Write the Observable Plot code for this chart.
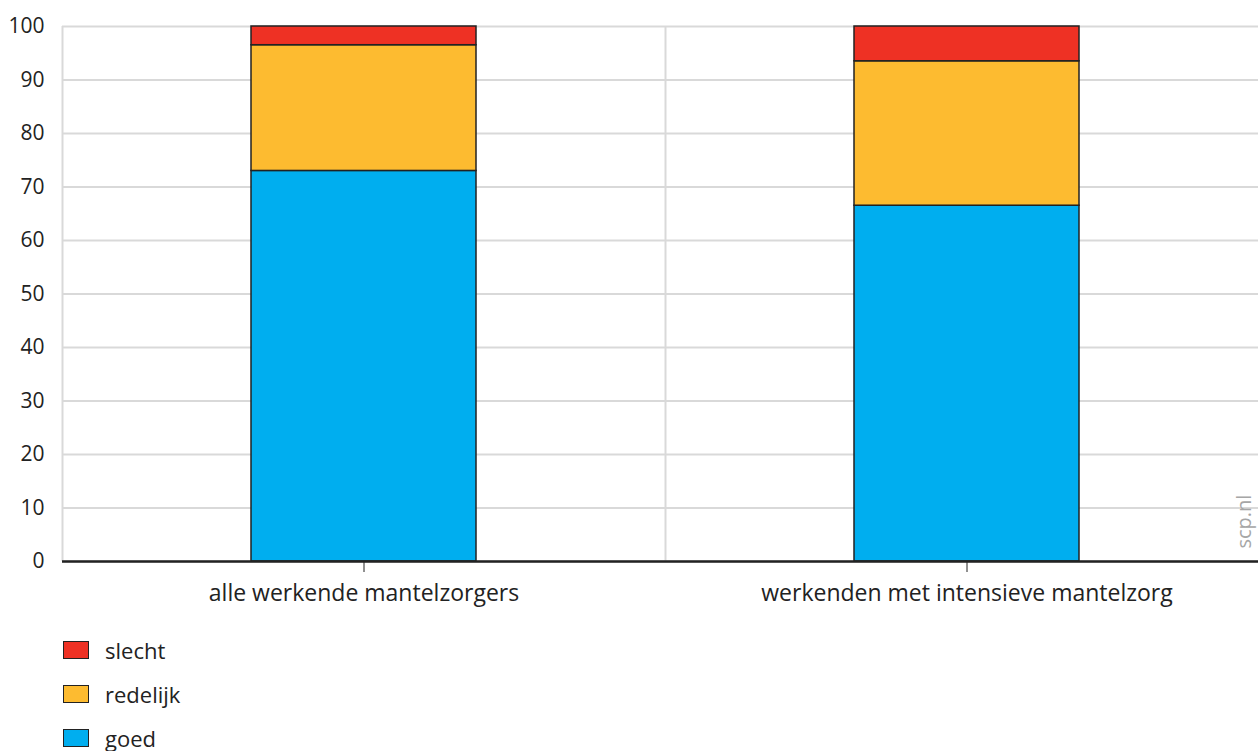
<!DOCTYPE html>
<html>
<head>
<meta charset="utf-8">
<script src="https://cdn.jsdelivr.net/npm/d3@7"></script>
<script src="https://cdn.jsdelivr.net/npm/@observablehq/plot@0.6"></script>
<style>
  html, body { margin: 0; padding: 0; background: #fff; overflow: hidden; }
  #wrap { width: 1258px; overflow: hidden; font-family: "Open Sans", sans-serif; color: #222; }
  #chart svg { max-width: none !important; display: block; }
  #legend { margin-left: 63px; margin-top: 3px; }
  .row { display: flex; align-items: center; height: 44px; font-size: 22px; }
  .sw { width: 24px; height: 16px; border: 1.5px solid #222; margin-right: 16px; }
</style>
</head>
<body>
<div id="wrap"><div id="chart"></div><div id="legend"></div></div>
<script>
const categories = ["alle werkende mantelzorgers", "werkenden met intensieve mantelzorg"];
const levels = ["goed", "redelijk", "slecht"];
const goed = [73, 66.5];
const redelijk = [23.5, 27];
const slecht = [3.5, 6.5];
const colors = ["#00aeef", "#fdbb30", "#ee3124"];
const yTicks = [0, 10, 20, 30, 40, 50, 60, 70, 80, 90, 100];
const watermark = ["scp.nl"];

const series = {goed, redelijk, slecht};
const data = categories.flatMap((c, i) => levels.map(l => ({cat: c, level: l, value: series[l][i]})));

const chart = Plot.plot({
  width: 1268,
  height: 625,
  marginLeft: 62,
  marginRight: 0,
  marginTop: 26,
  marginBottom: 64,
  style: {fontFamily: "Open Sans, sans-serif", color: "#222", background: "#fff", maxWidth: "none"},
  x: {domain: categories, paddingInner: 0.627, paddingOuter: 0.3135, label: null},
  y: {domain: [0, 100], label: null},
  color: {domain: levels, range: colors},
  marks: [
    Plot.ruleY(yTicks, {stroke: "#d9d9d9", strokeWidth: 2}),
    Plot.ruleX(categories, {x: d => d, dx: -301.5, stroke: "#d9d9d9", strokeWidth: 2}),
    Plot.barY(data, Plot.stackY({x: "cat", y: "value", fill: "level", order: levels, stroke: "#222", strokeWidth: 1.5})),
    Plot.ruleY([0], {stroke: "#222", strokeWidth: 2.5}),
    Plot.axisY({ticks: yTicks, tickSize: 0, tickPadding: 18, fontSize: 21, fill: "#222", label: null}),
    Plot.axisX({tickSize: 11, tickPadding: 12, fontSize: 23, fill: "#222", stroke: "#222", label: null}),
    Plot.text(watermark, {text: d => d, frameAnchor: "bottom-right", rotate: -90, textAnchor: "start", lineAnchor: "middle", dx: -24, dy: -13, fontSize: 20, fill: "#a6a6a6"})
  ]
});
document.getElementById("chart").appendChild(chart);

const legend = document.getElementById("legend");
levels.slice().reverse().forEach(l => {
  const row = document.createElement("div");
  row.className = "row";
  const sw = document.createElement("div");
  sw.className = "sw";
  sw.style.background = colors[levels.indexOf(l)];
  const t = document.createElement("span");
  t.textContent = l;
  row.appendChild(sw);
  row.appendChild(t);
  legend.appendChild(row);
});
</script>
</body>
</html>
